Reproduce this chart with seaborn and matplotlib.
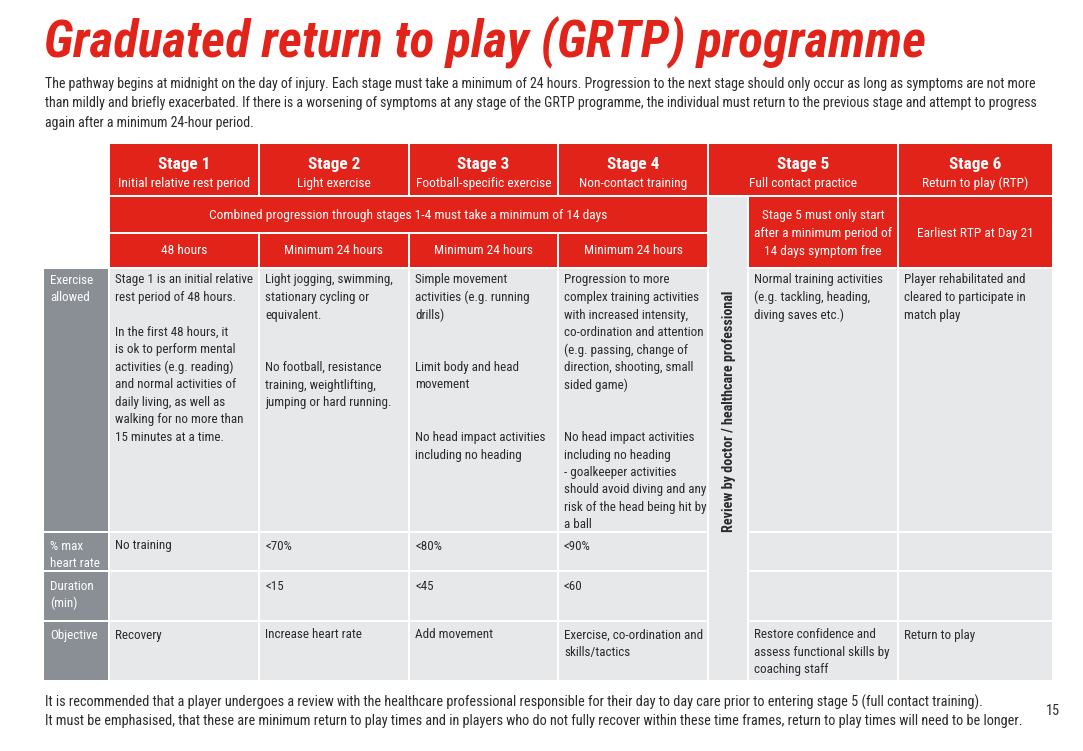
import matplotlib
matplotlib.use("Agg")
import matplotlib.pyplot as plt
from matplotlib import font_manager
from matplotlib.patches import Rectangle
import seaborn as sns

# ---------------- data ----------------
title = "Graduated return to play (GRTP) programme"
intro_lines = [
    "The pathway begins at midnight on the day of injury. Each stage must take a minimum of 24 hours. Progression to the next stage should only occur as long as symptoms are not more",
    "than mildly and briefly exacerbated. If there is a worsening of symptoms at any stage of the GRTP programme, the individual must return to the previous stage and attempt to progress",
    "again after a minimum 24-hour period.",
]
footer_lines = [
    "It is recommended that a player undergoes a review with the healthcare professional responsible for their day to day care prior to entering stage 5 (full contact training).",
    "It must be emphasised, that these are minimum return to play times and in players who do not fully recover within these time frames, return to play times will need to be longer.",
]
page_number = "15"

stage_names = ["Stage 1", "Stage 2", "Stage 3", "Stage 4", "Stage 5", "Stage 6"]
stage_subtitles = ["Initial relative rest period", "Light exercise", "Football-specific exercise",
                   "Non-contact training", "Full contact practice", "Return to play (RTP)"]
combined_note = "Combined progression through stages 1-4 must take a minimum of 14 days"
stage_hours = ["48 hours", "Minimum 24 hours", "Minimum 24 hours", "Minimum 24 hours"]
stage5_note = ["Stage 5 must only start", "after a minimum period of", "14 days symptom free"]
stage6_note = "Earliest RTP at Day 21"
review_note = "Review by doctor / healthcare professional"

row_labels = [["Exercise", "allowed"], ["% max", "heart rate"], ["Duration", "(min)"], ["Objective"]]

exercise_allowed = [
    ["Stage 1 is an initial relative", "rest period of 48 hours.", "",
     "In the first 48 hours, it", "is ok to perform mental", "activities (e.g. reading)",
     "and normal activities of", "daily living, as well as", "walking for no more than",
     "15 minutes at a time."],
    ["Light jogging, swimming,", "stationary cycling or", "equivalent.", "", "",
     "No football, resistance", "training, weightlifting,", "jumping or hard running."],
    ["Simple movement", "activities (e.g. running", "drills)", "", "",
     "Limit body and head", "movement", "", "",
     "No head impact activities", "including no heading"],
    ["Progression to more", "complex training activities", "with increased intensity,",
     "co-ordination and attention", "(e.g. passing, change of", "direction, shooting, small",
     "sided game)", "", "", "No head impact activities", "including no heading",
     "- goalkeeper activities", "should avoid diving and any", "risk of the head being hit by",
     "a ball"],
    ["Normal training activities", "(e.g. tackling, heading,", "diving saves etc.)"],
    ["Player rehabilitated and", "cleared to participate in", "match play"],
]
max_heart_rate = [["No training"], ["<70%"], ["<80%"], ["<90%"], [], []]
duration_min = [[], ["<15"], ["<45"], ["<60"], [], []]
objective = [["Recovery"], ["Increase heart rate"], ["Add movement"],
             ["Exercise, co-ordination and", "skills/tactics"],
             ["Restore confidence and", "assess functional skills by", "coaching staff"],
             ["Return to play"]]

# ---------------- style ----------------
RED = "#E2231A"
DARK = "#8A8E95"
LIGHT = "#E7E8EA"
TXT = "#2B2B2F"
DY = 2  # vertical text nudge (pixels)

sns.set_theme(style="white")
names = {f.name for f in font_manager.fontManager.ttflist}
cands = ["Roboto Condensed", "Liberation Sans Narrow", "Open Sans Condensed", "Roboto", "Lato", "DejaVu Sans"]
FONT = next(c for c in cands if c in names)
plt.rcParams["font.family"] = [FONT, "DejaVu Sans"]

W, H = 1083, 751
fig = plt.figure(figsize=(W / 100, H / 100), dpi=100)
fig.patch.set_facecolor("white")
ax = fig.add_axes([0, 0, 1, 1])
ax.set_xlim(0, W)
ax.set_ylim(H, 0)
ax.axis("off")
renderer = fig.canvas.get_renderer()


def fit_size(text, target, weight="normal", style="normal", base=10.0):
    t = ax.text(0, 0, text, fontsize=base, fontweight=weight, fontstyle=style)
    w = t.get_window_extent(renderer).width
    t.remove()
    return base * target / w


def rect(x0, x1, y0, y1, color):
    ax.add_patch(Rectangle((x0, y0), x1 - x0, y1 - y0, facecolor=color, edgecolor="none", lw=0))


def put(x, y, s, size, ha="left", color=TXT, weight="normal", **kw):
    ax.text(x, y + DY, s, fontsize=size, ha=ha, va="center", color=color, fontweight=weight, **kw)


def lines_at(x, y0, lines, lh, size, ha="left", color=TXT, weight="normal"):
    for i, s in enumerate(lines):
        if s:
            put(x, y0 + i * lh, s, size, ha=ha, color=color, weight=weight)


# sizes calibrated to reference widths
title_fs = fit_size(title, 883, weight="bold", style="italic", base=28)
intro_fs = fit_size(intro_lines[1], 991)
footer_fs = fit_size(footer_lines[1], 977)
body_fs = fit_size("Stage 1 is an initial relative", 137)
head_fs = fit_size("Stage 1", 52, weight="bold")
sub_fs = fit_size(combined_note, 393)
review_fs = fit_size(review_note, 242, weight="bold")

# ---------------- title & intro ----------------
ax.text(44, 57, title, fontsize=title_fs, fontweight="bold", fontstyle="italic", color=RED, va="baseline")
lines_at(45, 82, intro_lines, 19.5, intro_fs)

# ---------------- table geometry ----------------
cols = [(110, 258), (260, 408), (410, 557), (559, 707), (749, 897), (899, 1052)]
head_cols = cols[:4] + [(709, 897), (899, 1052)]
label_col = (44, 108)
review_col = (709, 747)
rows = {"head": (144, 195), "comb": (197, 232), "hours": (234, 267),
        "ex": (269, 531), "hr": (533, 570), "dur": (572, 620), "obj": (622, 680)}

# header
for (x0, x1), nm, sub in zip(head_cols, stage_names, stage_subtitles):
    rect(x0, x1, *rows["head"], RED)
    cx = (x0 + x1) / 2
    put(cx, 163, nm, head_fs, ha="center", color="white", weight="bold")
    put(cx, 181, sub, sub_fs, ha="center", color="white")

# combined row
rect(cols[0][0], cols[3][1], *rows["comb"], RED)
put((cols[0][0] + cols[3][1]) / 2, 214, combined_note, sub_fs, ha="center", color="white")
for (x0, x1), hrs in zip(cols[:4], stage_hours):
    rect(x0, x1, *rows["hours"], RED)
    put((x0 + x1) / 2, 249, hrs, sub_fs, ha="center", color="white")

rect(cols[4][0], cols[4][1], rows["comb"][0], rows["hours"][1], RED)
lines_at((cols[4][0] + cols[4][1]) / 2, 214, stage5_note, 17.5, sub_fs, ha="center", color="white")
rect(cols[5][0], cols[5][1], rows["comb"][0], rows["hours"][1], RED)
put((cols[5][0] + cols[5][1]) / 2, 231, stage6_note, sub_fs, ha="center", color="white")

# review column
rect(review_col[0], review_col[1], rows["comb"][0], rows["obj"][1], LIGHT)
ax.text(729.5, 411, review_note, fontsize=review_fs, fontweight="bold", rotation=90,
        ha="center", va="center", color=TXT)

# body
body_rows = [("ex", exercise_allowed, 278), ("hr", max_heart_rate, 544),
             ("dur", duration_min, 584), ("obj", objective, 633)]
for (key, values, ty), lab in zip(body_rows, row_labels):
    y0, y1 = rows[key]
    rect(label_col[0], label_col[1], y0, y1, DARK)
    lines_at(50, ty, lab, 17.5, body_fs, color="white")
    for (x0, x1), cell in zip(cols, values):
        rect(x0, x1, y0, y1, LIGHT)
        lines_at(x0 + 5, ty, cell, 17.5, body_fs)

# footer
lines_at(45, 700, footer_lines, 19.0, footer_fs)
put(1053, 709, page_number, footer_fs, ha="center")

fig.savefig("out.png", dpi=100, facecolor="white")
